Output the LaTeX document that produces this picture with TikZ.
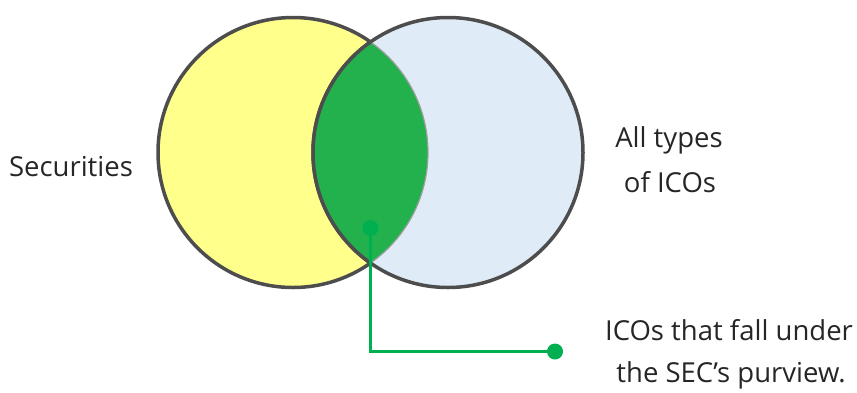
\documentclass[tikz,border=0pt]{standalone}
\usepackage{fontspec}
\setmainfont{Open Sans}
\definecolor{secyellow}{HTML}{FFFF8C}
\definecolor{icoblue}{HTML}{DFECF7}
\definecolor{lensgreen}{HTML}{23B14D}
\definecolor{callgreen}{HTML}{00B050}
\definecolor{rimgray}{HTML}{4D4D4D}
\tikzset{
  setcircle/.style={circle, minimum size=270pt, inner sep=0pt, line width=3.5pt, draw=rimgray},
  calldot/.style={circle, fill=callgreen, minimum size=16pt, inner sep=0pt},
  callline/.style={draw=callgreen, line width=2.6pt},
  lbl/.style={font=\fontsize{27.5}{32}\selectfont, text=black!85, inner sep=0pt, anchor=base}
}
\begin{document}
\begin{tikzpicture}[x=1pt,y=-1pt]
\useasboundingbox (0,0) rectangle (857,392);
% circles
\node[setcircle, fill=secyellow] (sec) at (293,152.5) {};
\node[setcircle, fill=icoblue] (ico) at (448,152.5) {};
% intersection lens
\begin{scope}
  \clip (293,152.5) circle[radius=135pt];
  \fill[lensgreen, draw=gray!70, line width=1.2pt] (448,152.5) circle[radius=135pt];
  \draw[rimgray, line width=3.5pt] (448,152.5) circle[radius=135pt];
\end{scope}
\begin{scope}
  \clip (448,152.5) circle[radius=133pt];
  \draw[gray!75, line width=1.2pt] (293,152.5) circle[radius=135pt];
\end{scope}
% callout
\node[calldot] (d1) at (370.5,228) {};
\node[calldot] (d2) at (555,351.5) {};
\draw[callline] (d1.center) |- (d2.center);
% labels
\node[lbl] (t1) at (71,176) {Securities};
\node[lbl] (t2) at (669,147) {All types};
\node[lbl] (t3) at (670,192) {of ICOs};
\node[lbl] (t4) at (729,340) {ICOs that fall under};
\node[lbl] (t5) at (731,382) {the SEC’s purview.};
\end{tikzpicture}
\end{document}
